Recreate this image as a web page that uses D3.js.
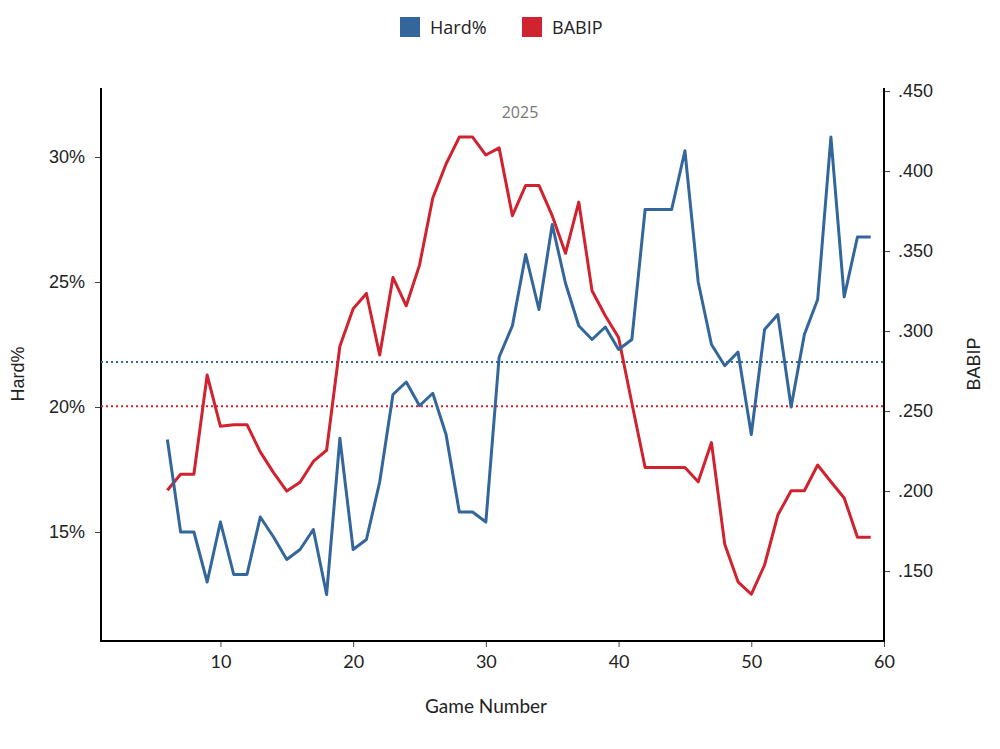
<!DOCTYPE html>
<html>
<head>
<meta charset="utf-8">
<script src="https://cdn.jsdelivr.net/npm/d3@7"></script>
<style>
  body { margin: 0; background: #fff; }
  text { font-family: Lato, "Open Sans", sans-serif; }
</style>
</head>
<body>
<svg id="chart" width="1000" height="749"></svg>
<script>
// Jogos e valores.
const games = d3.range(6, 60);
const hardPct = [18.7, 15.0, 15.0, 13.0, 15.4, 13.3, 13.3, 15.6, 14.8, 13.9, 14.3, 15.1, 12.5, 18.75,
  14.3, 14.7, 17.0, 20.5, 21.0, 20.05, 20.55, 18.9, 15.8, 15.8, 15.4, 22.0, 23.25, 26.1, 23.9, 27.3,
  24.95, 23.25, 22.7, 23.2, 22.3, 22.7, 27.9, 27.9, 27.9, 30.25, 25.0, 22.5, 21.65, 22.2, 18.9,
  23.1, 23.7, 20.0, 22.9, 24.3, 30.8, 24.4, 26.8, 26.8];
const babip = [.2005, .2105, .2105, .2725, .2405, .2415, .2415, .2245, .2115, .2, .2055, .2185, .2255, .2905,
  .314, .3235, .285, .3335, .3158, .3412, .3832, .4044, .4212, .4212, .41, .4145, .3721, .391, .391, .3721,
  .3486, .3806, .3252, .3096, .296, .255, .2147, .2147, .2147, .2147, .2058, .2303, .1667, .1433, .1355,
  .1538, .185, .2002, .2002, .2163, .2058, .1957, .1712, .1712];
const hardAvg = 21.8;
const babipAvg = 0.253;
const hardTicks = [15, 20, 25, 30];
const babipTicks = [.15, .2, .25, .3, .35, .4, .45];
const xTicks = [10, 20, 30, 40, 50, 60];

const blue = '#33679b', red = '#d1222f';
const sansFont = '"Liberation Sans", Arial, sans-serif';
const svg = d3.select('#chart');
const pL = 101, pR = 884, pT = 88, pB = 641;

const x = d3.scaleLinear().domain([1, 60]).range([pL, pR]);
const yL = d3.scaleLinear().domain([10.64, 32.76]).range([pB, pT]);
const yR = d3.scaleLinear().domain([0.1063, 0.4519]).range([pB, pT]);

// Eixos
const axL = svg.append('g').attr('transform', `translate(${pL},0)`)
  .call(d3.axisLeft(yL).tickValues(hardTicks).tickSize(6).tickPadding(10).tickFormat(d => d + '%'));
const axR = svg.append('g').attr('transform', `translate(${pR},0)`)
  .call(d3.axisRight(yR).tickValues(babipTicks).tickSize(6).tickPadding(8).tickFormat(d => d3.format('.3f')(d).replace(/^0/, '')));
const axB = svg.append('g').attr('transform', `translate(0,${pB})`)
  .call(d3.axisBottom(x).tickValues(xTicks).tickSize(6).tickPadding(8));

[axL, axR, axB].forEach(a => {
  a.select('.domain').remove();
  a.selectAll('.tick line').attr('stroke', '#444');
  a.selectAll('.tick text').attr('font-size', 18).attr('fill', '#222');
});
axL.selectAll('.tick text').style('font-family', sansFont);
axR.selectAll('.tick text').style('font-family', sansFont);
svg.append('path')
  .attr('d', `M${pL},${pT}V${pB}H${pR}V${pT}`)
  .attr('fill', 'none').attr('stroke', '#000').attr('stroke-width', 2);

// Linhas de média
svg.append('line').attr('x1', pL).attr('x2', pR)
  .attr('y1', yL(hardAvg)).attr('y2', yL(hardAvg))
  .attr('stroke', blue).attr('stroke-width', 2).attr('stroke-dasharray', '2,3');
svg.append('line').attr('x1', pL).attr('x2', pR)
  .attr('y1', yR(babipAvg)).attr('y2', yR(babipAvg))
  .attr('stroke', red).attr('stroke-width', 2).attr('stroke-dasharray', '2,3');

// Séries
svg.append('path').datum(games)
  .attr('fill', 'none').attr('stroke', red).attr('stroke-width', 3).attr('stroke-linejoin', 'round')
  .attr('d', d3.line().x(d => x(d)).y((d, i) => yR(babip[i])));
svg.append('path').datum(games)
  .attr('fill', 'none').attr('stroke', blue).attr('stroke-width', 3).attr('stroke-linejoin', 'round')
  .attr('d', d3.line().x(d => x(d)).y((d, i) => yL(hardPct[i])));

// Títulos
svg.append('text').attr('x', 520).attr('y', 118).attr('text-anchor', 'middle')
  .attr('font-size', 16).attr('fill', '#777').style('font-family', '"Open Sans", sans-serif').text('2025');
svg.append('text').attr('x', 486).attr('y', 713).attr('text-anchor', 'middle')
  .attr('font-size', 19).attr('fill', '#222').text('Game Number');
svg.append('text').attr('transform', 'translate(24,374) rotate(-90)').attr('text-anchor', 'middle')
  .attr('font-size', 18).attr('fill', '#222').style('font-family', sansFont).text('Hard%');
svg.append('text').attr('transform', 'translate(980,364) rotate(-90)').attr('text-anchor', 'middle')
  .attr('font-size', 18).attr('fill', '#222').style('font-family', sansFont).text('BABIP');

// Legenda
const legend = [{ name: 'Hard%', color: blue, x: 400 }, { name: 'BABIP', color: red, x: 522 }];
const lg = svg.append('g').selectAll('g').data(legend).enter().append('g')
  .attr('transform', d => `translate(${d.x},17)`);
lg.append('rect').attr('width', 20).attr('height', 20).attr('fill', d => d.color);
lg.append('text').attr('x', 30).attr('y', 17).attr('font-size', 18).attr('fill', '#222')
  .style('font-family', '"Open Sans", sans-serif').text(d => d.name);
</script>
</body>
</html>
